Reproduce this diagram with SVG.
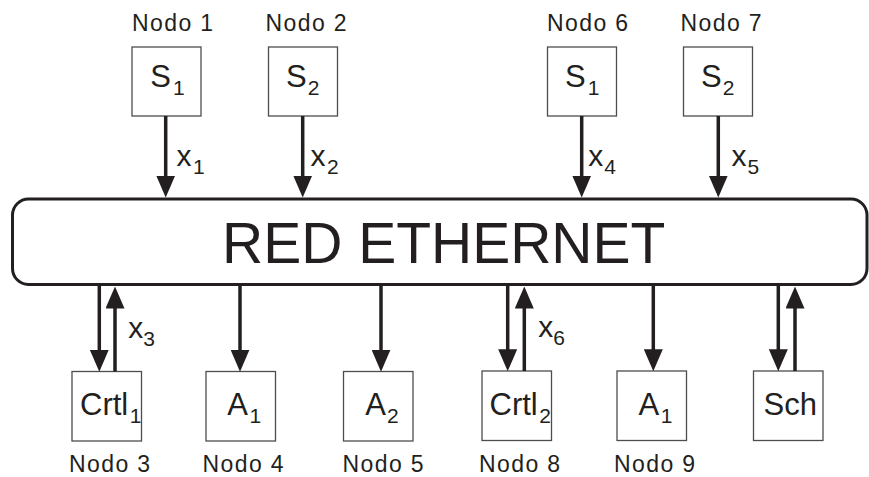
<svg xmlns="http://www.w3.org/2000/svg" width="869" height="477" viewBox="0 0 869 477">
<style>
text{font-family:"Liberation Sans",Arial,Helvetica,sans-serif;fill:#231f20}
.nodo{font-size:23px;letter-spacing:1.4px}
.lbl{font-size:31px}
.xl{font-size:30px}
.sub{font-size:21px}
.box{fill:#fff;stroke:#4d4d4d;stroke-width:1.3}
.net{fill:#fff;stroke:#231f20;stroke-width:3}
.ln{stroke:#231f20;stroke-width:3.5;fill:none;marker-end:url(#ah)}
</style>
<defs>
<marker id="ah" markerUnits="userSpaceOnUse" markerWidth="22" markerHeight="19" refX="14" refY="9.5" orient="auto">
<path d="M0,0 L22,9.5 L0,19 z" fill="#231f20"/>
</marker>
</defs>
<rect width="869" height="477" fill="#fff"/>
<g id="red">
<rect class="net" x="12.5" y="199" width="854.5" height="85.5" rx="16" ry="16"/>
<text x="222" y="263" style="font-size:57px">RED ETHERNET</text>
</g>
<g id="nodo1">
<text class="nodo" x="132" y="31">Nodo 1</text>
<rect class="box" x="132" y="47" width="69" height="69"/>
<text class="lbl" x="150.3" y="87">S<tspan class="sub" dy="7.5" dx="2">1</tspan></text>
</g>
<g id="nodo2">
<text class="nodo" x="265.5" y="31">Nodo 2</text>
<rect class="box" x="268.5" y="47" width="69" height="69"/>
<text class="lbl" x="286" y="87">S<tspan class="sub" dy="7.5" dx="1">2</tspan></text>
</g>
<g id="nodo6">
<text class="nodo" x="547" y="31">Nodo 6</text>
<rect class="box" x="547.5" y="47" width="69" height="69"/>
<text class="lbl" x="565" y="87">S<tspan class="sub" dy="7.5" dx="2">1</tspan></text>
</g>
<g id="nodo7">
<text class="nodo" x="680.5" y="31">Nodo 7</text>
<rect class="box" x="683.5" y="47" width="69" height="69"/>
<text class="lbl" x="701" y="87">S<tspan class="sub" dy="7.5" dx="1">2</tspan></text>
</g>
<g id="nodo3">
<rect class="box" x="72" y="371.5" width="69.5" height="69.5"/>
<text class="lbl" x="80" y="415">Crtl<tspan class="sub" dy="7.7" dx="1.5">1</tspan></text>
<text class="nodo" x="69" y="471.5">Nodo 3</text>
</g>
<g id="nodo4">
<rect class="box" x="206" y="371.5" width="69.5" height="69.5"/>
<text class="lbl" x="227.3" y="415">A<tspan class="sub" dy="7.7" dx="1.5">1</tspan></text>
<text class="nodo" x="202.5" y="471.5">Nodo 4</text>
</g>
<g id="nodo5">
<rect class="box" x="343.5" y="371.5" width="69.5" height="69.5"/>
<text class="lbl" x="365.3" y="415">A<tspan class="sub" dy="7.7" dx="1">2</tspan></text>
<text class="nodo" x="342.5" y="471.5">Nodo 5</text>
</g>
<g id="nodo8">
<rect class="box" x="482" y="371" width="69.5" height="69.5"/>
<text class="lbl" x="489.5" y="415">Crtl<tspan class="sub" dy="7.7" dx="1.5">2</tspan></text>
<text class="nodo" x="479" y="471.5">Nodo 8</text>
</g>
<g id="nodo9">
<rect class="box" x="617" y="371" width="69.5" height="69.5"/>
<text class="lbl" x="638.6" y="415">A<tspan class="sub" dy="7.7" dx="1.5">1</tspan></text>
<text class="nodo" x="614" y="471.5">Nodo 9</text>
</g>
<g id="sch">
<rect class="box" x="753.5" y="371" width="69.5" height="69.5"/>
<text class="lbl" x="763.5" y="415">Sch</text>
</g>
<g id="connectors">
<line class="ln" x1="165.7" y1="116" x2="165.7" y2="189.5"/>
<line class="ln" x1="302.7" y1="116" x2="302.7" y2="189.5"/>
<line class="ln" x1="581.7" y1="116" x2="581.7" y2="189.5"/>
<line class="ln" x1="718.3" y1="116" x2="718.3" y2="189.5"/>
<line class="ln" x1="99.3" y1="286" x2="99.3" y2="363.7"/>
<line class="ln" x1="115" y1="371.5" x2="115" y2="294.5"/>
<line class="ln" x1="240" y1="286" x2="240" y2="363.7"/>
<line class="ln" x1="381" y1="286" x2="381" y2="363.7"/>
<line class="ln" x1="507.7" y1="286" x2="507.7" y2="363.2"/>
<line class="ln" x1="524.3" y1="371" x2="524.3" y2="294.5"/>
<line class="ln" x1="653.3" y1="286" x2="653.3" y2="363.2"/>
<line class="ln" x1="778.3" y1="286" x2="778.3" y2="363.2"/>
<line class="ln" x1="795" y1="371" x2="795" y2="294.5"/>
<text class="xl" x="176.5" y="166">x<tspan class="sub" dy="7.5" dx="1.5">1</tspan></text>
<text class="xl" x="310.5" y="166">x<tspan class="sub" dy="7.5" dx="1.5">2</tspan></text>
<text class="xl" x="588.3" y="166">x<tspan class="sub" dy="7.5" dx="1">4</tspan></text>
<text class="xl" x="731.5" y="166">x<tspan class="sub" dy="7.5" dx="1">5</tspan></text>
<text class="xl" x="128.3" y="338">x<tspan class="sub" dy="8.4" dx="0">3</tspan></text>
<text class="xl" x="538.3" y="336.5">x<tspan class="sub" dy="8.4" dx="0">6</tspan></text>
</g>
</svg>
